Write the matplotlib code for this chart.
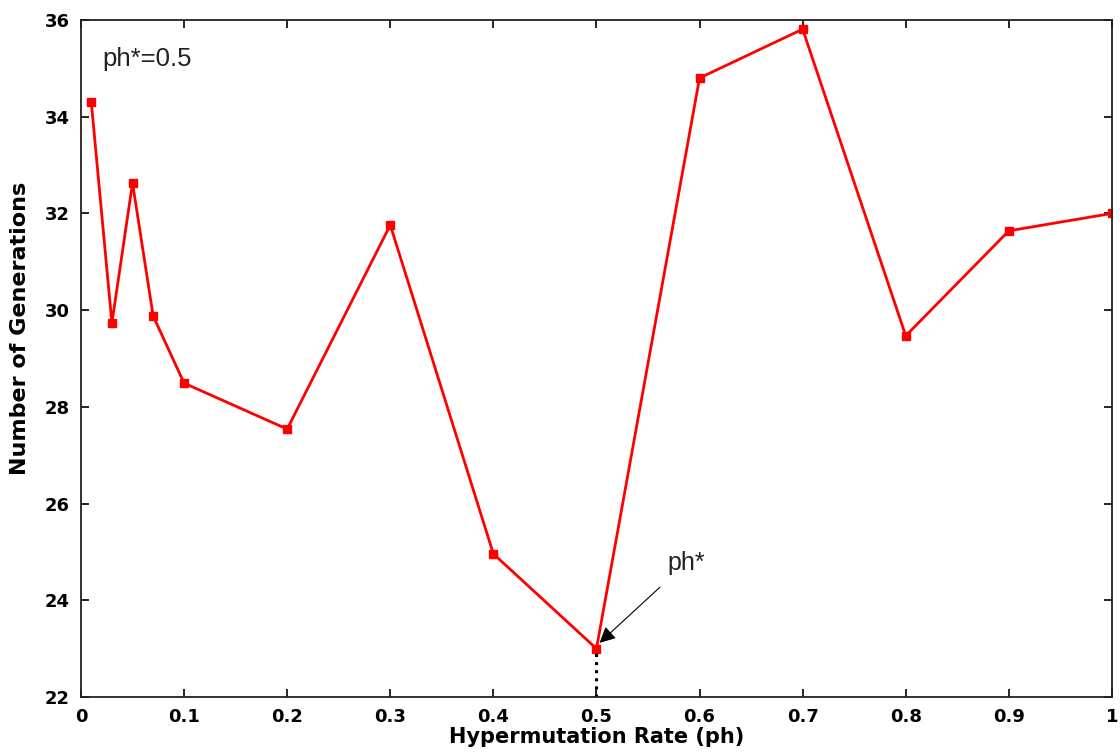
import matplotlib.pyplot as plt

plt.rcParams['font.family'] = ['DejaVu Sans']

# hypermutation rate vs. generations needed
rates = [0.01, 0.03, 0.05, 0.07, 0.1, 0.2, 0.3, 0.4, 0.5, 0.6, 0.7, 0.8, 0.9, 1.0]
generations = [34.30, 29.73, 32.63, 29.88, 28.49, 27.54, 31.76, 24.96, 23.0,
               34.80, 35.81, 29.47, 31.64, 32.0]
best_rate = 0.5
best_gen = 23.0

xticks = [0, 0.1, 0.2, 0.3, 0.4, 0.5, 0.6, 0.7, 0.8, 0.9, 1]
xticklabels = ['0', '0.1', '0.2', '0.3', '0.4', '0.5', '0.6', '0.7', '0.8', '0.9', '1']
yticks = [22, 24, 26, 28, 30, 32, 34, 36]

fig = plt.figure(figsize=(11.2, 7.54), dpi=100)
ax = fig.add_axes([0.0723, 0.0756, 0.9205, 0.8979])

ax.plot(rates, generations, color='red', lw=2.0, marker='s', ms=5.5,
        markerfacecolor='red', markeredgecolor='red')

# dotted drop line at the optimum
ax.plot([best_rate, best_rate], [22, best_gen], color='black', ls=':', lw=2.2)

ax.annotate('ph*', xy=(best_rate + 0.003, best_gen + 0.12),
            xytext=(0.587, 24.77), ha='center', va='center', fontsize=18,
            family=['Liberation Sans', 'DejaVu Sans'], color='#222222',
            arrowprops=dict(arrowstyle='-|>', color='black', lw=0.8,
                            mutation_scale=24, shrinkA=10, shrinkB=0))

ax.text(0.021, 35.2, 'ph*=0.5', fontsize=18.5, color='#222222', va='center',
        family=['Liberation Sans', 'DejaVu Sans'])

ax.set_xlim(0, 1)
ax.set_ylim(22, 36)
ax.set_xticks(xticks)
ax.set_xticklabels(xticklabels)
ax.set_yticks(yticks)
ax.tick_params(direction='in', top=True, right=True, length=6, width=1.2,
               labelsize=13, pad=8)
for lab in ax.get_xticklabels() + ax.get_yticklabels():
    lab.set_fontweight('bold')
for sp in ax.spines.values():
    sp.set_linewidth(1.3)
    sp.set_color('#222222')

ax.set_xlabel('Hypermutation Rate (ph)', fontsize=15, fontweight='bold', labelpad=1)
ax.set_ylabel('Number of Generations', fontsize=16, fontweight='bold')
ax.yaxis.set_label_coords(-0.049, 0.545)

fig.savefig('out.png', dpi=100)
